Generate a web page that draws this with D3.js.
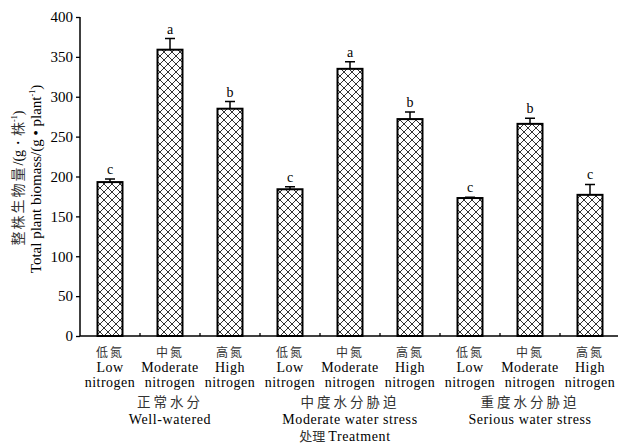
<!DOCTYPE html>
<html><head><meta charset="utf-8">
<script src="https://cdn.jsdelivr.net/npm/d3@7"></script>
<style>body{margin:0;background:#fff}svg{display:block}</style>
</head><body>
<svg id="c" width="618" height="445"></svg>
<script>
const nitrogenCN = ["低氮","中氮","高氮","低氮","中氮","高氮","低氮","中氮","高氮"];
const nitrogenEN1 = ["Low","Moderate","High","Low","Moderate","High","Low","Moderate","High"];
const nitrogenEN2 = ["nitrogen","nitrogen","nitrogen","nitrogen","nitrogen","nitrogen","nitrogen","nitrogen","nitrogen"];
const groupsCN = ["正常水分","中度水分胁迫","重度水分胁迫"];
const groupsEN = ["Well-watered","Moderate water stress","Serious water stress"];
const values = [193, 359, 285, 184, 335, 272, 173, 266, 177];
const errors = [4, 14, 9, 3, 9, 9, 1, 7, 13];
const letters = ["c","a","b","c","a","b","c","b","c"];
const yTicks = [0,50,100,150,200,250,300,350,400];

const svg = d3.select("#c");
const serif = "'Liberation Serif','Times New Roman',serif";
const cjk = "'Noto Sans CJK SC',sans-serif";
const x = d3.scaleBand().domain(d3.range(values.length)).range([80, 620]).padding(0);
const y = d3.scaleLinear().domain([0, 400]).range([336, 17]);
const barW = 25;

const defs = svg.append("defs");
const pat = defs.append("pattern").attr("id","hatch").attr("patternUnits","userSpaceOnUse")
  .attr("width",8).attr("height",8);
pat.append("rect").attr("width",8).attr("height",8).attr("fill","#fff");
pat.append("path").attr("d","M0,0L8,8M0,8L8,0M-1,1L1,-1M7,9L9,7M-1,7L1,9M7,-1L9,1")
  .attr("stroke","#333").attr("stroke-width",1);

// bars
const g = svg.append("g");
g.selectAll("rect.bar").data(values).join("rect").attr("class","bar")
  .attr("x",(d,i)=>x(i)+x.bandwidth()/2-barW/2)
  .attr("y",d=>y(d)).attr("width",barW).attr("height",d=>y(0)-y(d))
  .attr("fill","url(#hatch)").attr("stroke","#000").attr("stroke-width",2);

// error bars
g.selectAll("path.err").data(values).join("path").attr("class","err")
  .attr("d",(d,i)=>{const cx=x(i)+x.bandwidth()/2; const t=y(d+errors[i]);
    return `M${cx},${y(d)}L${cx},${t}M${cx-5},${t}L${cx+5},${t}`;})
  .attr("stroke","#000").attr("stroke-width",1.5).attr("fill","none");

// letters
g.selectAll("text.lt").data(values).join("text").attr("class","lt")
  .attr("x",(d,i)=>x(i)+x.bandwidth()/2).attr("y",(d,i)=>y(d+errors[i])-5)
  .attr("text-anchor","middle").attr("font-family",serif).attr("font-size",14).attr("fill","#000")
  .text((d,i)=>letters[i]);

// y axis
const ya = svg.append("g").attr("transform","translate(80,0)")
  .call(d3.axisLeft(y).tickValues(yTicks).tickSize(4).tickPadding(3));
ya.select(".domain").attr("stroke","#000").attr("stroke-width",1.5).attr("d",`M0,${y(400)}V${y(0)}`);
ya.selectAll(".tick line").attr("stroke","#000").attr("stroke-width",1.3);
ya.selectAll(".tick text").attr("font-family",serif).attr("font-size",15).attr("fill","#000");

// x axis
const xa = svg.append("g").attr("transform",`translate(0,${y(0)})`);
xa.append("path").attr("d","M80,0H618").attr("stroke","#000").attr("stroke-width",1.5);
xa.selectAll("line.tk").data(d3.range(1, values.length)).join("line").attr("class","tk")
  .attr("x1",d=>x(d)).attr("x2",d=>x(d)).attr("y1",0).attr("y2",-3)
  .attr("stroke","#000").attr("stroke-width",1.3);

// x labels
const lab = svg.append("g");
values.forEach((v,i)=>{
  const cx = x(i)+x.bandwidth()/2;
  lab.append("text").attr("x",cx).attr("y",357).attr("text-anchor","middle")
    .attr("font-family",cjk).attr("font-size",12).attr("fill","#333").attr("letter-spacing",2).text(nitrogenCN[i]);
  lab.append("text").attr("x",cx).attr("y",372).attr("text-anchor","middle")
    .attr("font-family",serif).attr("font-size",14).attr("letter-spacing",0.5).text(nitrogenEN1[i]);
  lab.append("text").attr("x",cx).attr("y",387).attr("text-anchor","middle")
    .attr("font-family",serif).attr("font-size",14).attr("letter-spacing",0.5).text(nitrogenEN2[i]);
});
groupsCN.forEach((gname,k)=>{
  const cx = (x(k*3)+x(k*3+2)+x.bandwidth())/2;
  lab.append("text").attr("x",cx).attr("y",407).attr("text-anchor","middle")
    .attr("font-family",cjk).attr("font-size",13.5).attr("fill","#333").attr("letter-spacing",3).text(gname);
  lab.append("text").attr("x",cx).attr("y",424).attr("text-anchor","middle")
    .attr("font-family",serif).attr("font-size",14).attr("letter-spacing",0.6).text(groupsEN[k]);
});
const tr = lab.append("text").attr("x",345).attr("y",441).attr("text-anchor","middle")
  .attr("font-family",serif).attr("font-size",14);
tr.append("tspan").attr("font-family",cjk).attr("font-size",13).attr("fill","#333").text("处理 ");
tr.append("tspan").attr("font-family",serif).attr("font-size",14).attr("letter-spacing",0.6).text("Treatment");

// y label
const yl1 = svg.append("text").attr("transform","translate(23,178) rotate(-90)").attr("text-anchor","middle")
  .attr("font-family",cjk).attr("font-size",14).attr("fill","#333");
yl1.append("tspan").attr("letter-spacing",2).text("整株生物量");
yl1.append("tspan").attr("font-family",serif).attr("fill","#000").text("/(g・");
yl1.append("tspan").text("株");
yl1.append("tspan").attr("font-family",serif).attr("font-size",8).attr("dy",-6).attr("fill","#000").text("-1");
yl1.append("tspan").attr("font-family",serif).attr("dy",6).attr("fill","#000").text(")");

const yl2 = svg.append("text").attr("transform","translate(41,179) rotate(-90)").attr("text-anchor","middle")
  .attr("font-family",serif).attr("font-size",15);
yl2.append("tspan").text("Total plant biomass/(g • plant");
yl2.append("tspan").attr("font-size",8).attr("dy",-6).text("-1");
yl2.append("tspan").attr("dy",6).text(")");
</script>
</body></html>
